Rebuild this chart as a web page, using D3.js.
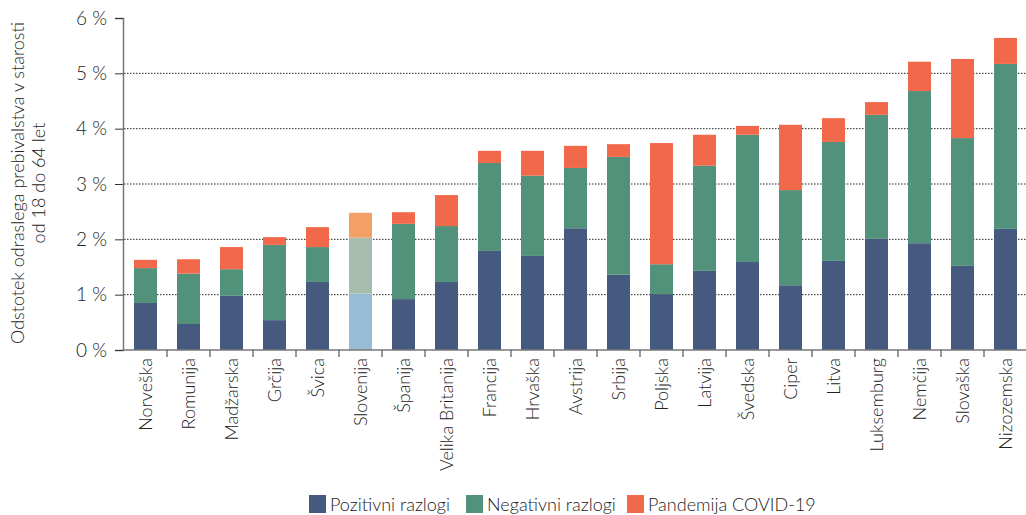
<!DOCTYPE html>
<html><head><meta charset="utf-8">
<script src="https://cdn.jsdelivr.net/npm/d3@7"></script>
<style>
html,body{margin:0;padding:0;background:#fff;}
svg{display:block;}
text{font-family:Lato,"Open Sans",sans-serif;font-weight:300;fill:#222;}
</style></head>
<body>
<svg id="chart" width="1026" height="515"></svg>
<script>
const categories = ["Norveška","Romunija","Madžarska","Grčija","Švica","Slovenija","Španija","Velika Britanija","Francija","Hrvaška","Avstrija","Srbija","Poljska","Latvija","Švedska","Ciper","Litva","Luksemburg","Nemčija","Slovaška","Nizozemska"];
const positive = [0.85,0.47,0.98,0.54,1.23,1.02,0.92,1.23,1.79,1.70,2.20,1.36,1.01,1.43,1.59,1.17,1.61,2.01,1.93,1.52,2.19];
const negative = [0.63,0.91,0.48,1.36,0.63,1.01,1.36,1.01,1.59,1.45,1.09,2.13,0.54,1.90,2.30,1.72,2.15,2.24,2.75,2.31,2.98];
const covid    = [0.15,0.26,0.40,0.14,0.36,0.45,0.21,0.56,0.22,0.45,0.40,0.23,2.19,0.56,0.16,1.18,0.43,0.23,0.53,1.43,0.47];
const seriesNames = ["Pozitivni razlogi","Negativni razlogi","Pandemija COVID-19"];
const yTicks = [0,1,2,3,4,5,6];
const highlight = "Slovenija";

const colors = ["#465a80","#52917a","#f2684a"];
const colorsHi = ["#97bcd3","#a5bcae","#f2a065"];

const svg = d3.select("#chart");
const x = d3.scaleBand().domain(categories).range([124,1027]).paddingInner(0.465).paddingOuter(0.2325);
const y = d3.scaleLinear().domain([0,6]).range([350,18]);

// gridlines
svg.append("g").selectAll("line").data(yTicks.filter(d=>d>0 && d<6)).join("line")
  .attr("x1",124).attr("x2",1026).attr("y1",d=>y(d)).attr("y2",d=>y(d))
  .attr("stroke","#222").attr("stroke-width",1).attr("stroke-dasharray","1.5,1.5");

// stacked bars
const table = categories.map((c,i)=>({cat:c, pos:positive[i], neg:negative[i], cov:covid[i]}));
const stack = d3.stack().keys(["pos","neg","cov"])(table);
svg.append("g").selectAll("g").data(stack).join("g")
  .each(function(layer, li){
    d3.select(this).selectAll("rect").data(layer).join("rect")
      .attr("x",d=>x(d.data.cat)).attr("width",x.bandwidth())
      .attr("y",d=>y(d[1])).attr("height",d=>y(d[0])-y(d[1]))
      .attr("fill",d=>d.data.cat===highlight?colorsHi[li]:colors[li]);
  });

// y axis
const yAxis = d3.axisLeft(y).tickValues(yTicks).tickSize(8).tickPadding(8).tickFormat(d=>d+" %");
const gy = svg.append("g").attr("transform","translate(123,0)").call(yAxis);
gy.select(".domain").attr("stroke","#777").attr("stroke-width",1.5);
gy.selectAll(".tick line").attr("stroke","#333");
gy.selectAll(".tick text").attr("font-size",19).attr("font-family","Lato,'Open Sans',sans-serif").attr("fill","#333");

// x axis
const step = x.step();
const gx = svg.append("g").attr("transform","translate(0,350)");
gx.append("line").attr("x1",123).attr("x2",1026).attr("y1",0).attr("y2",0).attr("stroke","#777").attr("stroke-width",1.5);
gx.selectAll("line.tk").data(categories.slice(1)).join("line").attr("class","tk")
  .attr("x1",d=>x(d)-(step-x.bandwidth())/2).attr("x2",d=>x(d)-(step-x.bandwidth())/2)
  .attr("y1",0).attr("y2",7).attr("stroke","#555").attr("stroke-width",1.2);
gx.selectAll("text").data(categories).join("text")
  .attr("transform",d=>`translate(${x(d)+x.bandwidth()/2+6},8) rotate(-90)`)
  .attr("text-anchor","end").attr("font-size",18).attr("fill","#222").text(d=>d);

// y title
const yt = svg.append("text").attr("transform","translate(24,183) rotate(-90)")
  .attr("text-anchor","middle").attr("font-size",18).attr("fill","#333");
yt.append("tspan").attr("x",0).attr("dy",0).text("Odstotek odraslega prebivalstva v starosti");
yt.append("tspan").attr("x",0).attr("dy",21).text("od 18 do 64 let");

// legend
const legX = [309,466,627];
const lg = svg.append("g");
seriesNames.forEach((n,i)=>{
  lg.append("rect").attr("x",legX[i]).attr("y",495).attr("width",17).attr("height",18).attr("fill",colors[i]);
  lg.append("text").attr("x",legX[i]+21).attr("y",511).attr("font-size",18).attr("fill","#333").text(n);
});
</script>
</body></html>
